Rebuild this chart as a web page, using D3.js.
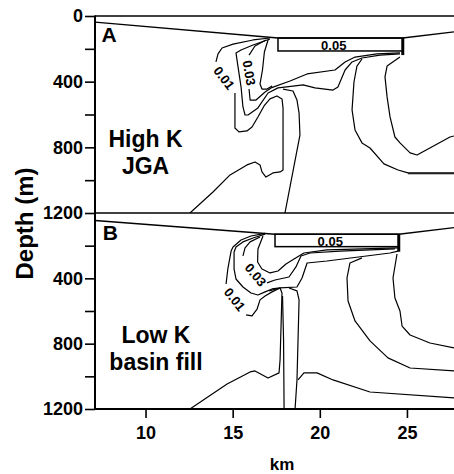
<!DOCTYPE html>
<html><head><meta charset="utf-8">
<script src="https://cdn.jsdelivr.net/npm/d3@7"></script>
<style>
body{margin:0;background:#fff}
svg{display:block}
text{font-family:"Liberation Sans",Arial,Helvetica,sans-serif;font-weight:bold;fill:#000}
</style></head><body>
<svg id="c" width="454" height="474"></svg>
<script>
// ---------- data (km, depth in m) ----------
const kmDomain = [7.1, 27.7];
const depthDomain = [0, 1200];
const kmTicks = [10, 15, 20, 25];
const depthTicksTop = [0, 200, 400, 600, 800, 1000, 1200];
const depthTicksBottom = [200, 400, 600, 800, 1000, 1200];
const depthLabels = [0, 400, 800, 1200];

const surfaceA = [[7.1,37],[17.6,134],[24.76,134],[27.7,97]];
const surfaceB = [[7.1,46],[17.43,130],[24.53,130],[27.7,89]];
// source box: km0, km1, depth0, depth1, depth of thick edge bottom
const sourceA = [17.6, 24.76, 134, 213, 238];
const sourceB = [17.43, 24.53, 130, 206, 237];

// Panel A contour lines
const a01Upper = [[14.04,280],[14.16,231],[14.39,195],[15.02,171],[16.17,146],[17.14,134]];
const a01Lower = [[15.13,469],[15.13,682],[15.36,706],[15.82,700],[16.11,676],[16.45,615],[16.8,548],[17.14,505],[17.54,487],[17.83,505],[17.89,560],[17.89,938],[17.72,950],[17.31,956],[16.91,981],[16.68,950],[16.57,907],[16.28,889],[15.82,907],[14.85,968],[13.87,1072],[12.55,1200]];
const aOuter03 = [[17.14,140],[16.17,177],[15.48,207],[15.19,225],[15.31,311],[15.48,432],[15.59,554],[15.71,603],[15.88,603],[16.45,560],[17.03,469],[17.6,438],[18.58,426],[19.04,420],[19.72,438],[20.76,451],[21.04,432],[21.45,329],[21.85,280],[22.42,256],[23.45,238],[24.6,231]];
const a03Upper = [[16.91,146],[16.28,183],[15.94,238]];
const a03Lower = [[15.94,445],[16.0,512],[16.34,512],[16.86,463],[17.2,438],[18.29,396],[19.27,353],[20.87,329],[21.45,280],[22.02,250],[23.28,231],[24.6,225]];
const aInner = [[17.03,146],[16.82,219],[16.71,329],[16.57,414],[16.68,445],[16.97,445],[17.26,426]];
const aColumn = [[17.89,445],[18.46,457],[18.69,512],[18.81,591],[18.86,725],[18.0,1200]];
const aEast1 = [[22.42,262],[22.13,305],[21.96,402],[21.85,572],[22.02,694],[22.42,773],[22.88,804],[23.68,901],[24.49,938],[25.06,956],[27.7,956]];
const aEast2 = [[24.6,250],[23.86,305],[23.74,371],[23.86,493],[24.03,615],[24.31,737],[24.6,773],[25.18,834],[25.58,847],[27.47,737],[27.7,731]];
const aEast3 = [[25.06,961],[27.7,961]];

// Panel B contour lines
const b01Upper = [[14.62,435],[14.73,337],[14.91,233],[15.02,208],[15.48,165],[16.05,141],[16.86,125]];
const b01Lower = [[15.77,624],[16.11,630],[16.4,588],[16.57,532],[16.86,508],[17.26,483],[17.72,459],[17.83,490],[17.72,898],[17.66,979],[17.03,1010],[16.28,967],[16.0,973],[14.68,1047],[12.55,1200]];
const bOuter03 = [[16.86,129],[16.17,153],[15.59,177],[15.19,208],[15.08,239],[15.08,343],[15.19,404],[15.59,453],[16.05,490],[16.45,502],[16.86,483],[17.26,465],[17.72,459]];
const b03Upper = [[16.57,147],[16.0,177],[15.71,214],[15.59,263]];
const b03Lower = [[17.09,477],[17.72,459],[18.69,453],[18.98,398],[19.27,306],[20.41,294],[24.03,245],[24.49,233]];
const bMid = [[16.97,428],[17.43,410],[18.23,392],[18.63,330],[18.92,263],[19.44,245],[21.16,233],[24.31,220]];
const bInner = [[16.74,141],[16.45,220],[16.43,300],[16.68,343],[17.14,367],[17.6,355],[18.06,312],[18.52,282],[19.09,245],[20.41,226],[24.49,214]];
const bColumn1 = [[17.86,508],[17.92,777],[17.95,1200]];
const bColumn2 = [[18.23,459],[18.69,477],[18.81,532],[18.75,777],[18.69,1022],[18.58,1200]];
const bFloor = [[27.7,1132],[22.88,1096],[20.76,1022],[19.84,979],[19.09,979],[18.75,1022]];
const bEast1 = [[22.42,275],[21.73,306],[21.56,398],[21.62,539],[22.02,661],[22.88,783],[23.91,887],[25.18,949],[27.7,967]];
const bEast2 = [[24.43,251],[24.2,398],[24.31,520],[24.6,600],[24.72,692],[25.18,747],[26.32,796],[27.7,826]];

// contour labels: text, km, depth, angle
const labelsA = [["0.01",14.5,378,53],["0.03",15.94,347,80],["0.05",20.8,177,0]];
const labelsB = [["0.01",15.11,529,52],["0.03",16.31,379,50],["0.05",20.6,176,0]];

const noteA = ["High K","JGA"];
const noteB = ["Low K","basin fill"];
const panelLetters = ["A","B"];

// ---------- drawing ----------
const svg = d3.select("#c");
const x = d3.scaleLinear().domain(kmDomain).range([95, 454]);
const yA = d3.scaleLinear().domain(depthDomain).range([16, 213]);
const yB = d3.scaleLinear().domain(depthDomain).range([213, 409]);

const panels = [
  {y:yA, surface:surfaceA, box:sourceA, lines:[a01Upper,a01Lower,aOuter03,a03Upper,a03Lower,aInner,aColumn,aEast1,aEast2,aEast3], labels:labelsA, letter:panelLetters[0], note:noteA, noteKm:10.0, letterKm:7.47, letterDepth:157},
  {y:yB, surface:surfaceB, box:sourceB, lines:[b01Upper,b01Lower,bOuter03,b03Upper,b03Lower,bMid,bInner,bColumn1,bColumn2,bFloor,bEast1,bEast2], labels:labelsB, letter:panelLetters[1], note:noteB, noteKm:10.6, letterKm:7.55, letterDepth:165}
];

const defs = svg.append("defs");
panels.forEach((p,i)=>{
  const y = p.y;
  defs.append("clipPath").attr("id","clip"+i).append("rect")
    .attr("x",x(kmDomain[0])).attr("y",y(0))
    .attr("width",x(kmDomain[1])-x(kmDomain[0])).attr("height",y(1200)-y(0));
  const g = svg.append("g").attr("clip-path",`url(#clip${i})`);
  const line = d3.line().x(d=>x(d[0])).y(d=>y(d[1]));
  g.append("path").attr("d",line(p.surface)).attr("fill","none").attr("stroke","#000").attr("stroke-width",1.3);
  g.selectAll("path.ct").data(p.lines).join("path").attr("class","ct")
    .attr("d",line).attr("fill","none").attr("stroke","#000").attr("stroke-width",1.2)
    .attr("stroke-linejoin","round");
  const b = p.box;
  g.append("rect").attr("x",x(b[0])).attr("y",y(b[2]))
    .attr("width",x(b[1])-x(b[0])).attr("height",y(b[3])-y(b[2]))
    .attr("fill","none").attr("stroke","#000").attr("stroke-width",1.5);
  g.append("line").attr("x1",x(b[1])).attr("x2",x(b[1])).attr("y1",y(b[2])).attr("y2",y(b[4]))
    .attr("stroke","#000").attr("stroke-width",3);
  g.selectAll("text.cl").data(p.labels).join("text").attr("class","cl")
    .attr("transform",d=>`translate(${x(d[1])},${y(d[2])}) rotate(${d[3]})`)
    .attr("text-anchor","middle").attr("dominant-baseline","central")
    .attr("font-size",13).text(d=>d[0]);
  svg.append("text").attr("x",x(p.letterKm)).attr("y",y(p.letterDepth))
    .attr("font-size",21).text(p.letter);
  svg.selectAll(null).data(p.note).join("text")
    .attr("x",x(p.noteKm)).attr("y",(d,j)=>y(j===0?796:960))
    .attr("text-anchor","middle").attr("font-size",23).text(d=>d);
});

// frame
const fr = svg.append("g").attr("stroke","#000");
fr.append("line").attr("x1",x(kmDomain[0])).attr("x2",x(kmDomain[0])).attr("y1",yA(0)-0.5).attr("y2",yB(1200)+1).attr("stroke-width",2);
fr.append("line").attr("x1",x(kmDomain[0])).attr("x2",x(kmDomain[1])).attr("y1",yA(0)).attr("y2",yA(0)).attr("stroke-width",1.5);
fr.append("line").attr("x1",x(kmDomain[0])).attr("x2",x(kmDomain[1])).attr("y1",yA(1200)).attr("y2",yA(1200)).attr("stroke-width",1.5);
fr.append("line").attr("x1",x(kmDomain[0])).attr("x2",x(kmDomain[1])).attr("y1",yB(1200)).attr("y2",yB(1200)).attr("stroke-width",2);

function styleAxis(g){
  g.select(".domain").remove();
  g.selectAll(".tick line").attr("stroke-width",1.6);
  g.selectAll("text").attr("font-size",18).attr("font-weight","bold")
    .attr("font-family","'Liberation Sans',Arial,sans-serif").attr("fill","#000");
}
svg.append("g").attr("transform",`translate(${x(kmDomain[0])},0)`)
  .call(d3.axisLeft(yA).tickValues(depthTicksTop).tickSize(10).tickPadding(2)
    .tickFormat(d=>depthLabels.includes(d)?d:"")).call(styleAxis);
svg.append("g").attr("transform",`translate(${x(kmDomain[0])},0)`)
  .call(d3.axisLeft(yB).tickValues(depthTicksBottom).tickSize(10).tickPadding(2)
    .tickFormat(d=>depthLabels.includes(d)?d:"")).call(styleAxis);
svg.append("g").attr("transform",`translate(0,${yB(1200)})`)
  .call(d3.axisBottom(x).tickValues(kmTicks).tickSize(9).tickPadding(8)).call(styleAxis);

svg.append("text").attr("x",282).attr("y",470).attr("text-anchor","middle").attr("font-size",17).text("km");
svg.append("text").attr("transform","translate(33,223.5) rotate(-90)").attr("text-anchor","middle")
  .attr("font-size",24).text("Depth (m)");
</script>
</body></html>
